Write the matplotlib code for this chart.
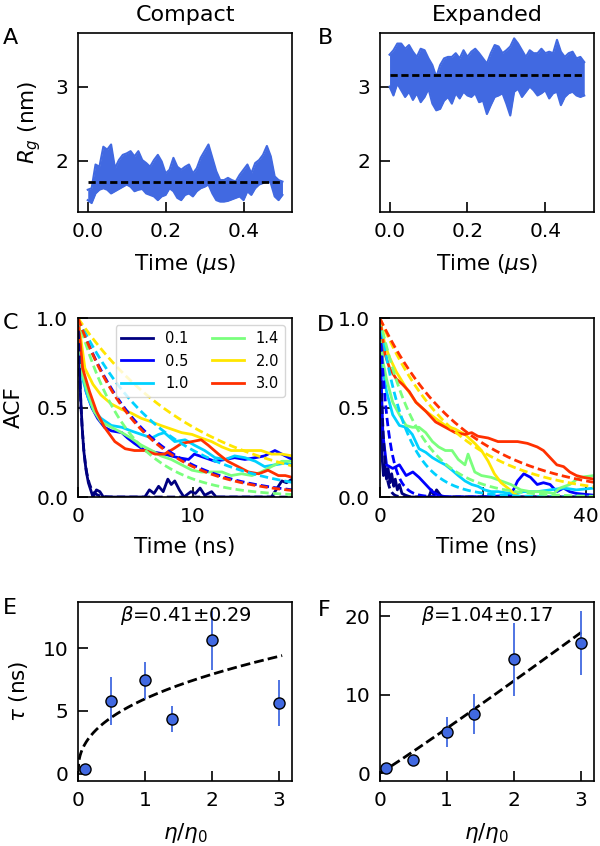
import numpy as np
import matplotlib
matplotlib.use("Agg")
import matplotlib.pyplot as plt

# ==========================================
# DATA
# ==========================================
# A/B: Rg trajectories, upper and lower edge of the noisy trace every 0.01 us
rg_time = np.linspace(0.0, 0.5, 51)
rg_compact_hi = [1.61, 1.63, 1.95, 1.92, 2.19, 2.15, 2.22, 1.90, 2.01, 2.08,
                 2.10, 2.13, 2.06, 2.13, 2.01, 1.97, 1.92, 2.01, 2.08, 1.99,
                 1.83, 1.88, 2.04, 1.92, 1.88, 1.92, 1.95, 1.83, 1.90, 2.04,
                 2.13, 2.22, 2.04, 1.86, 1.74, 1.74, 1.77, 1.74, 1.72, 1.81,
                 1.88, 1.95, 1.83, 1.97, 2.01, 2.08, 2.20, 2.06, 1.79, 1.74,
                 1.72]
rg_compact_lo = [1.47, 1.43, 1.56, 1.61, 1.63, 1.61, 1.56, 1.59, 1.62, 1.65,
                 1.68, 1.65, 1.59, 1.61, 1.62, 1.56, 1.54, 1.52, 1.47, 1.52,
                 1.54, 1.63, 1.59, 1.50, 1.47, 1.54, 1.56, 1.52, 1.59, 1.63,
                 1.65, 1.68, 1.56, 1.47, 1.45, 1.45, 1.46, 1.48, 1.50, 1.52,
                 1.47, 1.59, 1.54, 1.63, 1.68, 1.70, 1.74, 1.70, 1.52, 1.47,
                 1.54]
rg_expanded_hi = [3.43, 3.49, 3.58, 3.58, 3.51, 3.56, 3.47, 3.40, 3.51, 3.49,
                  3.38, 3.29, 3.13, 3.29, 3.38, 3.40, 3.40, 3.45, 3.38, 3.49,
                  3.40, 3.47, 3.51, 3.45, 3.38, 3.31, 3.45, 3.56, 3.54, 3.45,
                  3.49, 3.54, 3.65, 3.58, 3.49, 3.40, 3.49, 3.45, 3.45, 3.51,
                  3.45, 3.47, 3.45, 3.63, 3.47, 3.40, 3.45, 3.47, 3.38, 3.40,
                  3.33]
rg_expanded_lo = [3.00, 2.88, 3.04, 2.95, 2.86, 2.93, 2.82, 2.91, 2.79, 2.86,
                  2.97, 2.77, 2.68, 2.70, 2.81, 2.86, 2.77, 2.91, 2.84, 2.93,
                  2.88, 2.86, 2.91, 2.79, 2.81, 2.63, 2.75, 2.86, 2.88, 2.91,
                  2.77, 2.61, 2.93, 2.97, 2.86, 2.93, 3.00, 2.95, 2.88, 2.91,
                  2.95, 2.84, 2.91, 2.93, 2.75, 2.86, 2.91, 2.93, 2.88, 2.86,
                  2.88]
rg_compact_mean = 1.72
rg_expanded_mean = 3.15

# viscosity ratios and their colours
eta = [0.1, 0.5, 1.0, 1.4, 2.0, 3.0]
eta_labels = ["0.1", "0.5", "1.0", "1.4", "2.0", "3.0"]
eta_colors = ["#000080", "#0000ff", "#00d1ff", "#7aff7d", "#ffe600", "#ff3000"]

# C: ACF, compact state
acf_compact_t = [
    [0, 0.1, 0.2, 0.35, 0.5, 0.7, 0.9, 1.2, 1.3, 1.6, 1.9, 2.2, 5.8, 6.2, 6.6,
     7.0, 7.4, 7.8, 8.1, 8.4, 8.8, 9.2, 9.8, 10.2, 10.6, 11.0, 11.6, 12.0,
     16.8, 17.3, 17.7, 18.1, 18.6],
    [0, 0.3, 0.7, 1.2, 1.7, 2.3, 2.9, 3.8, 4.3, 4.9, 5.8, 6.7, 7.5, 8.7, 9.6,
     10.1, 11.0, 11.9, 12.8, 13.6, 14.5, 15.4, 16.2, 17.1, 17.7, 18.6],
    [0, 0.4, 0.9, 1.4, 2.0, 2.9, 3.8, 4.6, 5.5, 6.4, 7.0, 7.5, 8.4, 9.3, 10.1,
     11.0, 11.9, 12.8, 13.6, 14.5, 15.4, 16.2, 17.1, 18.0, 18.6],
    [0, 0.4, 0.9, 1.4, 2.0, 2.9, 3.8, 4.6, 5.5, 6.4, 7.2, 8.1, 9.0, 9.9, 10.7,
     11.6, 12.5, 13.3, 14.2, 15.1, 15.9, 16.8, 17.7, 18.6],
    [0, 0.6, 1.3, 2.0, 2.9, 3.8, 4.6, 5.5, 6.4, 7.2, 8.1, 9.0, 9.9, 10.7, 11.6,
     12.5, 13.3, 14.2, 15.1, 15.9, 16.8, 17.7, 18.6],
    [0, 0.4, 1.0, 1.6, 2.3, 3.2, 4.1, 4.9, 5.8, 6.7, 7.5, 8.3, 9.0, 9.9, 10.7,
     11.3, 12.2, 13.0, 13.9, 14.8, 15.7, 16.5, 17.4, 18.0, 18.6],
]
acf_compact_v = [
    [1.0, 0.85, 0.6, 0.4, 0.26, 0.15, 0.08, 0.02, 0.0, 0.04, 0.03, 0.0, 0.0,
     0.04, 0.02, 0.06, 0.03, 0.10, 0.07, 0.09, 0.04, 0.0, 0.03, 0.02, 0.05,
     0.01, 0.03, 0.0, 0.0, 0.05, 0.09, 0.08, 0.10],
    [1.0, 0.76, 0.59, 0.50, 0.44, 0.39, 0.37, 0.36, 0.33, 0.30, 0.26, 0.25,
     0.24, 0.22, 0.21, 0.24, 0.22, 0.20, 0.21, 0.22, 0.21, 0.22, 0.23, 0.26,
     0.24, 0.21],
    [1.0, 0.66, 0.55, 0.48, 0.44, 0.40, 0.39, 0.37, 0.35, 0.33, 0.35, 0.36,
     0.31, 0.32, 0.29, 0.26, 0.22, 0.21, 0.23, 0.22, 0.20, 0.17, 0.18, 0.19,
     0.18],
    [1.0, 0.68, 0.57, 0.48, 0.42, 0.39, 0.36, 0.33, 0.29, 0.26, 0.23, 0.21,
     0.18, 0.15, 0.14, 0.14, 0.14, 0.12, 0.13, 0.12, 0.14, 0.17, 0.20, 0.20],
    [1.0, 0.72, 0.63, 0.57, 0.52, 0.49, 0.47, 0.44, 0.42, 0.40, 0.38, 0.36,
     0.35, 0.33, 0.31, 0.28, 0.26, 0.26, 0.26, 0.26, 0.24, 0.24, 0.23],
    [1.0, 0.72, 0.59, 0.48, 0.39, 0.31, 0.27, 0.26, 0.26, 0.24, 0.24, 0.27,
     0.30, 0.31, 0.32, 0.29, 0.24, 0.20, 0.17, 0.14, 0.13, 0.15, 0.12, 0.12,
     0.11],
]

# D: ACF, expanded state
acf_expanded_t = [
    [0, 0.15, 0.3, 0.5, 0.7, 1.0, 1.3, 1.6, 2.0, 2.3, 2.7, 3.0, 3.4, 3.8, 4.3,
     5.0, 6.0, 9.5, 10.0, 10.5, 11.0, 11.5, 12.0, 41.5],
    [0, 0.3, 0.6, 1.3, 2.5, 3.8, 5.1, 6.4, 7.6, 8.9, 10.2, 11.4, 13.0, 20.0,
     25.4, 26.7, 27.9, 29.2, 30.5, 31.7, 33.0, 34.3, 35.6, 36.8, 38.1, 41.5],
    [0, 0.6, 1.3, 2.5, 3.8, 5.1, 6.3, 7.6, 8.9, 10.2, 11.4, 12.7, 14.0, 15.2,
     16.5, 17.8, 19.0, 20.3, 21.6, 22.9, 25.4, 27.9, 30.5, 33.0, 35.6, 38.1,
     41.5],
    [0, 0.6, 1.3, 2.5, 3.8, 5.1, 6.3, 7.6, 8.9, 10.2, 11.4, 12.7, 14.0, 15.2,
     16.5, 17.1, 18.4, 19.7, 21.6, 23.5, 25.4, 27.3, 29.2, 31.7, 33.7, 34.9,
     36.8, 38.7, 41.5],
    [0, 1.0, 1.9, 3.2, 5.1, 7.0, 8.9, 10.8, 12.7, 14.6, 16.5, 18.4, 19.7, 21.0,
     22.2, 23.5, 24.8, 26.0, 27.3, 41.5],
    [0, 1.0, 1.9, 3.2, 4.4, 5.7, 7.0, 8.9, 10.8, 12.7, 14.6, 16.5, 17.8, 19.0,
     21.0, 22.9, 24.8, 26.7, 28.6, 30.5, 31.7, 33.0, 34.3, 35.6, 36.8, 38.1,
     39.4, 41.5],
]
acf_expanded_v = [
    [1.0, 0.6, 0.35, 0.2, 0.12, 0.18, 0.1, 0.16, 0.08, 0.13, 0.06, 0.1, 0.04,
     0.07, 0.02, 0.01, 0.0, 0.0, 0.04, 0.01, 0.04, 0.02, 0.0, 0.0],
    [1.0, 0.63, 0.35, 0.18, 0.16, 0.18, 0.12, 0.14, 0.11, 0.07, 0.03, 0.01,
     0.0, 0.0, 0.01, 0.09, 0.13, 0.11, 0.07, 0.08, 0.07, 0.03, 0.05, 0.03,
     0.02, 0.01],
    [1.0, 0.72, 0.59, 0.46, 0.40, 0.39, 0.35, 0.27, 0.25, 0.22, 0.20, 0.18,
     0.15, 0.12, 0.09, 0.07, 0.06, 0.04, 0.03, 0.03, 0.02, 0.03, 0.03, 0.04,
     0.05, 0.04, 0.05],
    [1.0, 0.76, 0.66, 0.53, 0.46, 0.40, 0.39, 0.39, 0.36, 0.31, 0.28, 0.26,
     0.26, 0.21, 0.18, 0.24, 0.14, 0.12, 0.11, 0.09, 0.07, 0.04, 0.03, 0.03,
     0.02, 0.05, 0.07, 0.11, 0.12],
    [1.0, 0.85, 0.78, 0.70, 0.61, 0.53, 0.48, 0.44, 0.40, 0.38, 0.35, 0.30,
     0.26, 0.20, 0.13, 0.08, 0.05, 0.02, 0.0, 0.0],
    [1.0, 0.80, 0.72, 0.66, 0.63, 0.59, 0.53, 0.48, 0.42, 0.39, 0.36, 0.35,
     0.36, 0.34, 0.33, 0.31, 0.31, 0.31, 0.30, 0.28, 0.26, 0.22, 0.18, 0.17,
     0.14, 0.12, 0.11, 0.10],
]

# E/F: relaxation times (ns) with error bars
tau_compact = [0.38, 5.8, 7.44, 4.35, 10.64, 5.63]
tau_compact_err = [0.1, 1.9, 1.5, 1.05, 2.35, 1.85]
tau_expanded = [0.64, 1.7, 5.2, 7.55, 14.5, 16.6]
tau_expanded_err = [0.2, 0.3, 1.9, 2.5, 4.65, 4.05]

# power-law fits tau = A * eta^beta
fit_compact = (5.97, 0.41, 0.29)    # A, beta, beta error
fit_expanded = (5.71, 1.04, 0.17)

BLUE = "#4169e1"
TICK_FS = 14.5
LABEL_FS = 15.5

# ==========================================
# FIGURE
# ==========================================
fig = plt.figure(figsize=(6, 8.46), dpi=100)

lefts = [0.130, 0.633]
bottoms = [0.7494, 0.4125, 0.0768]
w, h = 0.357, 0.2114
axes = [[fig.add_axes([l, b, w, h]) for l in lefts] for b in bottoms]


def style(ax):
    ax.tick_params(direction="in", length=7, width=1.2, pad=7,
                   labelsize=TICK_FS, top=False, right=False)
    for s in ax.spines.values():
        s.set_linewidth(1.2)


# --- A / B: Rg traces
for ax, hi, lo, mean, title in [
        (axes[0][0], rg_compact_hi, rg_compact_lo, rg_compact_mean, "Compact"),
        (axes[0][1], rg_expanded_hi, rg_expanded_lo, rg_expanded_mean, "Expanded")]:
    ax.fill_between(rg_time, lo, hi, color=BLUE, lw=0)
    ax.plot(rg_time, hi, color=BLUE, lw=1.5)
    ax.plot(rg_time, lo, color=BLUE, lw=1.5)
    ax.plot([rg_time[0], rg_time[-1]], [mean, mean], color="k", lw=2,
            ls=(0, (2.6, 1.3)))
    ax.set_xlim(-0.025, 0.525)
    ax.set_ylim(1.31, 3.72)
    ax.set_yticks([2, 3])
    ax.set_xticks([0.0, 0.2, 0.4])
    ax.set_xlabel(r"Time ($\mu$s)", fontsize=LABEL_FS, labelpad=8)
    ax.set_title(title, fontsize=16, pad=9)
    style(ax)
axes[0][0].set_ylabel(r"$R_g$ (nm)", fontsize=LABEL_FS, labelpad=9)

# --- C / D: autocorrelation functions and exponential fits
for ax, ts, vs, taus, xmax, xt in [
        (axes[1][0], acf_compact_t, acf_compact_v, tau_compact, 18.6, [0, 10]),
        (axes[1][1], acf_expanded_t, acf_expanded_v, tau_expanded, 41.5, [0, 20, 40])]:
    tt = np.linspace(0, xmax, 300)
    for t, v, tau, c, lab in zip(ts, vs, taus, eta_colors, eta_labels):
        ax.plot(t, v, color=c, lw=2, label=lab)
    for tau, c in zip(taus, eta_colors):
        ax.plot(tt, np.exp(-tt / tau), color=c, lw=2, ls=(0, (3, 1.5)))
    ax.set_xlim(0, xmax)
    ax.set_ylim(0, 1)
    ax.set_xticks(xt)
    ax.set_yticks([0.0, 0.5, 1.0])
    ax.set_xlabel("Time (ns)", fontsize=LABEL_FS, labelpad=8)
    style(ax)
axes[1][0].set_ylabel("ACF", fontsize=LABEL_FS, labelpad=9)
axes[1][0].legend(ncol=2, loc="upper right", fontsize=10.5, handlelength=2.2,
                  columnspacing=1.6)

# --- E / F: relaxation time vs viscosity
for ax, tau, err, fit, ylim, yt in [
        (axes[2][0], tau_compact, tau_compact_err, fit_compact, (-0.6, 13.7), [0, 5, 10]),
        (axes[2][1], tau_expanded, tau_expanded_err, fit_expanded, (-1.0, 21.8), [0, 10, 20])]:
    xx = np.linspace(0, 3.05, 200)
    ax.plot(xx, fit[0] * xx ** fit[1], color="k", lw=2, ls=(0, (3.5, 1.5)),
            zorder=1)
    ax.errorbar(eta, tau, yerr=err, fmt="o", color=BLUE, ecolor=BLUE,
                elinewidth=1.3, markersize=8, markeredgecolor="k",
                markeredgewidth=1.0, zorder=3)
    ax.text(0.5, 0.925, r"$\beta$=%.2f±%.2f" % (fit[1], fit[2]),
            transform=ax.transAxes, ha="center", va="center", fontsize=14)
    ax.set_xlim(0, 3.2)
    ax.set_ylim(*ylim)
    ax.set_xticks([0, 1, 2, 3])
    ax.set_yticks(yt)
    ax.set_xlabel(r"$\eta/\eta_0$", fontsize=LABEL_FS, labelpad=8)
    style(ax)
axes[2][0].set_ylabel(r"$\tau$ (ns)", fontsize=LABEL_FS, labelpad=9)

# panel letters
for letter, x, y in [("A", 0.005, 0.967), ("B", 0.53, 0.967),
                     ("C", 0.005, 0.630), ("D", 0.528, 0.628),
                     ("E", 0.005, 0.293), ("F", 0.53, 0.291)]:
    fig.text(x, y, letter, fontsize=16, ha="left", va="top")

fig.savefig("out.png", dpi=100)
